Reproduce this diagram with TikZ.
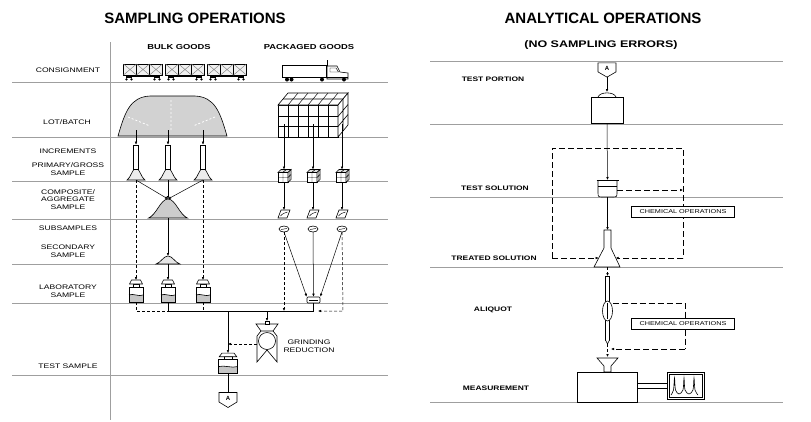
\documentclass[tikz,border=0pt]{standalone}
\usepackage{fontspec}
\setmainfont{Liberation Sans}
\newfontfamily\widefont[FakeStretch=1.3]{Liberation Sans}
\usetikzlibrary{arrows.meta}

\tikzset{
  sepline/.style={gray!75, line width=0.7pt},
  pict/.style={line width=0.6pt},
  thinpict/.style={line width=0.45pt},
  flow/.style={line width=0.5pt, -{Latex[length=3pt,width=2.6pt]}},
  dflow/.style={flow, dash pattern=on 3pt off 2pt},
  dloop/.style={line width=0.5pt, dash pattern=on 6pt off 3pt},
  rowlabel/.style={font=\widefont\fontsize{6.6}{7.6}\selectfont, align=center, inner sep=0pt},
  collabel/.style={font=\widefont\bfseries\fontsize{7.2}{8}\selectfont, inner sep=0pt},
  steplabel/.style={font=\widefont\bfseries\fontsize{6.5}{7.5}\selectfont, inner sep=0pt},
  bigtitle/.style={font=\bfseries\fontsize{15}{18}\selectfont, inner sep=0pt},
  subtitle/.style={font=\widefont\bfseries\fontsize{9.6}{11}\selectfont, inner sep=0pt},
  chembox/.style={draw, fill=white, line width=0.5pt, font=\widefont\fontsize{5.6}{6}\selectfont,
    minimum width=103pt, minimum height=11pt, inner sep=1pt},
  % pictograms
  pics/heap/.style={code={
    \draw[pict, fill=#1] (-1,0) .. controls (-0.6,-0.15) and (-0.38,-1) .. (0,-1)
      .. controls (0.38,-1) and (0.6,-0.15) .. (1,0) -- cycle;
    \coordinate (-top) at (0,-1); \coordinate (-bot) at (0,0);
  }},
  pics/heap/.default=gray!15,
  pics/railcar/.style={code={
    \draw[pict, fill=gray!12] (-19.5,-5.5) rectangle (19.5,5.5);
    \foreach \u in {-19.5,-6.5,6.5} {
      \draw[thinpict, gray] (\u,-5.5) -- (\u+13,5.5) (\u,5.5) -- (\u+13,-5.5);
      \draw[thinpict] (\u+13,-5.5) -- (\u+13,5.5);
    }
    \draw[line width=1pt] (-17,6.5) -- (17,6.5);
    \foreach \wx in {-14,14} {
      \fill (\wx-3,6.5) rectangle (\wx+3,8.5);
      \fill (\wx-2.5,9.8) circle (1.3) (\wx+2.5,9.8) circle (1.3);
    }
  }},
  pics/smallcube/.style={code={
    \draw[pict, fill=white] (-6,-3) rectangle (4,7);
    \draw[pict, fill=white] (-6,-3) -- (-3,-6) -- (7,-6) -- (4,-3) -- cycle;
    \draw[pict, fill=white] (4,-3) -- (7,-6) -- (7,4) -- (4,7) -- cycle;
    \draw[thinpict] (-1,-3) -- (-1,7) (-6,2) -- (4,2) (-4.5,-4.5) -- (5.5,-4.5)
      (2,-6) -- (-1,-3) (5.5,-4.5) -- (5.5,5.5) (4,2) -- (7,-1);
    \coordinate (-top) at (0,-6); \coordinate (-bot) at (0,7);
  }},
  pics/chunk/.style={code={
    \draw[pict, fill=white] (-6,4) -- (3,4) -- (6,-4) -- (-3,-4) -- cycle;
    \draw[thinpict] (-3.5,2) .. controls (-1,-1) and (1,-1) .. (3.5,-2);
    \coordinate (-top) at (0,-4); \coordinate (-bot) at (0,4);
  }},
  pics/oval/.style={code={
    \draw[pict, fill=white] (0,0) ellipse[x radius=5, y radius=3];
    \draw[thinpict] (-3,0.5) -- (3,-0.5);
    \coordinate (-top) at (0,-3); \coordinate (-bot) at (0,3);
  }},
  pics/bottle/.style={code={
    \draw[pict, fill=white] (-7,-4) rectangle (7,11);
    \fill[gray!45] (-7,4) .. controls (-3,2) and (3,6) .. (7,4) -- (7,11) -- (-7,11) -- cycle;
    \draw[pict] (-7,-4) rectangle (7,11);
    \draw[pict] (-7,4) .. controls (-3,2) and (3,6) .. (7,4);
    \draw[pict, fill=white] (-3,-7) rectangle (3,-4);
    \draw[pict, fill=white] (-4.5,-11) -- (4.5,-11) -- (6.5,-7) -- (-6.5,-7) -- cycle;
    \coordinate (-top) at (0,-11); \coordinate (-bot) at (0,11);
  }},
  pics/grinder/.style={code={
    \draw[pict, fill=white] (-11,-18) -- (11,-18) -- (6,-11) -- (-6,-11) -- cycle;
    \draw[pict] (-6,-11) -- (-10,-6) -- (-10,20) -- (0,8) -- (10,20) -- (10,-6) -- (6,-11);
    \draw[pict] (0,-1) circle (8.5);
    \draw[pict, fill=white] (-2,-21) rectangle (2,-18);
    \coordinate (-top) at (0,-21); \coordinate (-left) at (-10,2);
  }},
  pics/pentA/.style={code={
    \draw[pict, fill=white] (-9,-7.5) -- (9,-7.5) -- (9,2) -- (0,7.5) -- (-9,2) -- cycle;
    \node[font=\bfseries\fontsize{6}{6}\selectfont, inner sep=0pt] at (0,-1.5) {A};
    \coordinate (-top) at (0,-7.5); \coordinate (-bot) at (0,7.5);
  }},
}

\begin{document}
\begin{tikzpicture}[x=1pt, y=-1pt]
\useasboundingbox (0,0) rectangle (811,421);

% titles
\node[bigtitle] (sampTitle) at (195,18) {SAMPLING OPERATIONS};
\node[bigtitle] (anaTitle) at (603,18) {ANALYTICAL OPERATIONS};
\node[subtitle] (noErrors) at (601,45) {(NO SAMPLING ERRORS)};
\node[collabel] (bulkHead) at (179,47) {BULK GOODS};
\node[collabel] (packHead) at (309,47) {PACKAGED GOODS};

% row lines
\draw[sepline] (110,42) -- (110,420);
\foreach \y in {82,137,181,219,264,303,375}
  \draw[sepline] (12,\y) -- (388,\y);
\foreach \y in {61,124,197,267,402}
  \draw[sepline] (430,\y) -- (783,\y);

% row labels, sampling side
\node[rowlabel] (lConsign) at (68,70) {CONSIGNMENT};
\node[rowlabel] (lLot) at (67,122) {LOT/BATCH};
\node[rowlabel] (lIncr) at (68,151) {INCREMENTS};
\node[rowlabel] (lPrim) at (68,169) {PRIMARY/GROSS\\SAMPLE};
\node[rowlabel] (lComp) at (68,199.5) {COMPOSITE/\\AGGREGATE\\SAMPLE};
\node[rowlabel] (lSub) at (68,228) {SUBSAMPLES};
\node[rowlabel] (lSec) at (68,251.5) {SECONDARY\\SAMPLE};
\node[rowlabel] (lLab) at (68,291) {LABORATORY\\SAMPLE};
\node[rowlabel] (lTest) at (68,366) {TEST SAMPLE};
\node[rowlabel] (lGrind) at (309,346) {GRINDING\\REDUCTION};

% row labels, analytical side
\node[steplabel] (lPortion) at (493,79) {TEST PORTION};
\node[steplabel] (lSol) at (495,188) {TEST SOLUTION};
\node[steplabel] (lTreated) at (494,258) {TREATED SOLUTION};
\node[steplabel] (lAliquot) at (493,310) {ALIQUOT};
\node[steplabel] (lMeas) at (496,388) {MEASUREMENT};

%%% bulk goods
\foreach \cx [count=\i] in {143,185,227}
  \pic (car\i) at (\cx,69.5) {railcar};

% the pile
\draw[pict, fill=gray!35] (118,136) .. controls (125,112) and (130,97) .. (150,96)
  -- (195,96) .. controls (215,97) and (220,112) .. (227,136) -- cycle;
\draw[white, line width=0.8pt, dash pattern=on 2pt off 2pt]
  (171,100) -- (171,132) (128,117) -- (150,126) (215,117) -- (193,126);

% increments and primary heaps
\foreach \cx [count=\i] in {136,168,203} {
  \coordinate (pile\i) at (\cx,130);
  \pic[xscale=9, yscale=12] (ph\i) at (\cx,180) {heap};
  \node[draw, pict, fill=white, minimum width=5pt, minimum height=24pt, inner sep=0pt]
    (inc\i) at (\cx,157) {};
  \draw[flow] (pile\i) -- (inc\i.north);
}

% composite and secondary
\pic[xscale=19.5, yscale=19] (agg) at (168,218) {heap=gray!40};
\pic[xscale=12, yscale=8] (sec) at (168,264) {heap=gray!20};
\draw[flow] (ph1-bot) -- (agg-top);
\draw[flow] (ph3-bot) -- (agg-top);
\draw[flow] (ph2-bot) -- (agg-top);
\draw[flow] (agg-bot) -- (sec-top);

% laboratory samples
\foreach \cx [count=\i] in {136,168,203}
  \pic (lab\i) at (\cx,291) {bottle};
\draw[dflow] (ph1-bot) -- (lab1-top);
\draw[dflow] (ph3-bot) -- (lab3-top);
\draw[flow] (sec-bot) -- (lab2-top);

%%% packaged goods
\draw[pict] (327,66) -- (327,60);
\draw[pict, fill=white] (282,65) rectangle (326,77);
\draw[pict, fill=white] (327,79) -- (327,66) -- (337,66) -- (340,72) -- (348,73) -- (348,79) -- cycle;
\draw[thinpict] (330,68) -- (336,68) -- (338.5,72) -- (330,72) -- cycle;
\draw[line width=1pt] (282,77.5) -- (348,77.5);
\foreach \wx in {287,291.5,322,344}
  \fill (\wx,79.5) circle (2);

% the stack of packages
\draw[pict, fill=white] (278,105) rectangle (338,137);
\draw[pict, fill=white] (278,105) -- (288,93) -- (348,93) -- (338,105) -- cycle;
\draw[pict, fill=white] (338,105) -- (348,93) -- (348,125) -- (338,137) -- cycle;
\foreach \gx in {288,298,308,318,328} {
  \draw[thinpict] (\gx,105) -- (\gx,137);
  \draw[thinpict] (\gx,105) -- (\gx+10,93);
}
\draw[pict] (278,116.5) -- (338,116.5) -- (348,104.5)
  (278,126.5) -- (338,126.5) -- (348,114.5)
  (283,99) -- (343,99) -- (343,131);

% packages, composite and subsamples
\foreach \cx [count=\i] in {284,313,342} {
  \coordinate (box\i) at (\cx,124);
  \pic (pc\i) at (\cx,175.5) {smallcube};
  \pic (ch\i) at (\cx,214) {chunk};
  \pic (ov\i) at (\cx,229) {oval};
  \draw[flow] (box\i) -- (pc\i-top);
  \draw[flow] (pc\i-bot) -- (ch\i-top);
}
\node[draw, pict, fill=white, minimum width=13pt, minimum height=6pt, inner sep=0pt,
  rounded corners=1pt] (tray) at (313.5,300) {};
\draw[thinpict] (309,300) -- (318,300);
\draw[flow] (ov1-bot) -- (tray.north west);
\draw[flow] (ov2-bot) -- (tray.north);
\draw[flow] (ov3-bot) -- (tray.north east);

%%% towards the test sample
\coordinate (jLab1) at (136,311);
\coordinate (jLab2) at (168,311);
\coordinate (jLab3) at (203,311);
\coordinate (jTest) at (228,311);
\coordinate (jGrind) at (267,311);
\coordinate (jPack) at (313.5,311);
\coordinate (jLeft) at (284,311);
\coordinate (jRight) at (343,311);
\coordinate (jEnd) at (318,311);
\coordinate (jSide) at (228,344);

\draw[pict, dash pattern=on 3pt off 2pt] (lab1-bot) -- (jLab1) -- (jLab2);
\draw[pict, dash pattern=on 3pt off 2pt] (lab3-bot) -- (jLab3);
\draw[pict] (lab2-bot) -- (jLab2) -- (jPack) -- (tray.south);
\draw[dflow] (ov1-bot) -- (jLeft);
\draw[dflow] (ov3-bot) -- (jRight) -- (jEnd);

\pic (grind) at (267,342) {grinder};
\pic[xscale=1.35, yscale=0.9] (test) at (228,363) {bottle};
\pic (ptA) at (228,400) {pentA};
\draw[flow] (jGrind) -- (grind-top);
\draw[dflow] (grind-left) -- (jSide);
\draw[flow] (jTest) -- (test-top);
\draw[pict] (test-bot) -- (ptA-top);

%%% analytical operations
\pic[yscale=0.95] (startA) at (607,70) {pentA};
\coordinate (lidTop) at (607,92);
\draw[pict] (598,97) .. controls (600,91.5) and (614,91.5) .. (616,97);
\node[draw, pict, minimum width=32pt, minimum height=26pt, inner sep=0pt] (portion) at (607,110) {};
\draw[flow] (startA-bot) -- (lidTop);

% beaker
\draw[pict, fill=white] (598,180) -- (598,192) .. controls (598,197) .. (603,197) -- (612,197)
  .. controls (617,197) .. (617,192) -- (617,180);
\draw[pict] (596.5,180) -- (618.5,180);
\draw[thinpict] (598,186) -- (617,186);
\coordinate (beakTop) at (607.5,180);
\coordinate (beakBot) at (607.5,197);
\coordinate (beakRight) at (617,190);
\draw[flow] (portion.south) -- (beakTop);

% flask
\draw[pict, fill=white] (604,230) -- (611,230) -- (611,248) -- (620,267) -- (594,267) -- (604,248) -- cycle;
\coordinate (flaskTop) at (607.5,230);
\coordinate (flaskBot) at (607.5,267);
\coordinate (flaskL) at (598.7,258);
\coordinate (flaskR) at (615.7,258);
\draw[flow] (beakBot) -- (flaskTop);

% first chemical loop
\coordinate (loopTL) at (552,148);
\coordinate (loopTR) at (683,148);
\coordinate (loopBL) at (552,258);
\coordinate (loopBR) at (683,258);
\coordinate (loopMid) at (683,190);
\draw[dloop] (loopBL) -- (loopTL) -- (loopTR) -- (loopBR);
\draw[dloop, -{Latex[length=3pt,width=2.6pt]}] (beakRight) -- (loopMid);
\draw[dloop, -{Latex[length=3pt,width=2.6pt]}] (loopBL) -- (flaskL);
\draw[dloop, -{Latex[length=3pt,width=2.6pt]}] (loopBR) -- (flaskR);
\node[chembox] (chemA) at (683,212) {CHEMICAL OPERATIONS};

% pipette
\draw[pict, fill=white] (605.5,276) rectangle (609.5,340);
\draw[pict, fill=white] (605.5,340) -- (607.5,344) -- (609.5,340);
\draw[pict, fill=white] (607.5,311) ellipse[x radius=5, y radius=10];
\draw[thinpict] (607.5,303) -- (607.5,319);
\coordinate (pipTop) at (607.5,276);
\coordinate (pipTip) at (607.5,344);
\coordinate (pipRight) at (612.5,303);
\draw[dflow] (flaskBot) -- (pipTop);

% second chemical loop
\coordinate (loop2TR) at (685,303);
\coordinate (loop2BR) at (685,349);
\coordinate (loop2L) at (611,349);
\draw[dloop] (pipRight) -- (loop2TR) -- (loop2BR);
\draw[dloop, -{Latex[length=3pt,width=2.6pt]}] (loop2BR) -- (loop2L);
\node[chembox] (chemB) at (683,324) {CHEMICAL OPERATIONS};

% funnel and measuring instrument
\draw[pict, fill=white] (597,358) -- (618,358) -- (611,366) -- (611,372) -- (604,372) -- (604,366) -- cycle;
\coordinate (funTop) at (607.5,357);
\draw[dflow] (pipTip) -- (funTop);
\node[draw, pict, minimum width=60pt, minimum height=30pt, inner sep=0pt] (meas) at (607,387) {};
\node[draw, pict, minimum width=37pt, minimum height=27pt, inner sep=0pt] (rec) at (686,386) {};
\draw[thinpict] (669.5,374.5) rectangle (702.5,397.5);
\draw[pict] ([yshift=4pt]meas.east) -- ([yshift=4pt]meas.east -| rec.west)
  ([yshift=-1pt]meas.east) -- ([yshift=-1pt]meas.east -| rec.west);
\draw[pict] plot[smooth, tension=0.5] coordinates {(671,395) (673.5,390) (674.5,378) (675.5,390)
  (679,394) (683,390) (684,378) (685,390) (689,394) (693,390) (694,378) (695,390) (698,395)};

\end{tikzpicture}
\end{document}
